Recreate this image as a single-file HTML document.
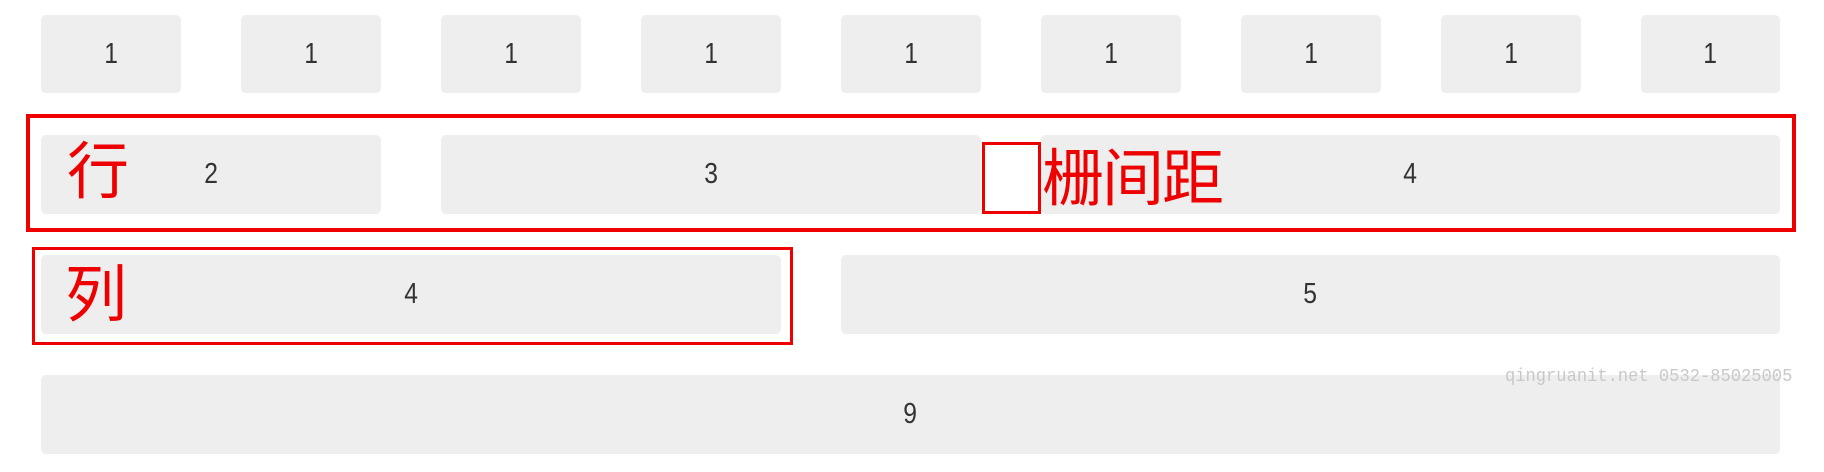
<!DOCTYPE html>
<html><head><meta charset="utf-8"><style>
body{margin:0;width:1824px;height:472px;background:#fff;position:relative;overflow:hidden;font-family:"Liberation Sans",sans-serif}
.b{position:absolute;background:#eeeeee;border-radius:5px;display:flex;align-items:center;justify-content:center;color:#333;font-size:29px}
.b span{display:inline-block;transform:scaleX(0.85)}
.r{position:absolute;border:4px solid #ee0000;box-sizing:border-box}
.t{position:absolute;color:#ee0000;font-family:"Liberation Sans","Noto Sans CJK SC",sans-serif;font-size:62px;line-height:1}
</style></head><body>
<div class="b" style="left:41px;top:15px;width:140px;height:78px"><span>1</span></div>
<div class="b" style="left:241px;top:15px;width:140px;height:78px"><span>1</span></div>
<div class="b" style="left:441px;top:15px;width:140px;height:78px"><span>1</span></div>
<div class="b" style="left:641px;top:15px;width:140px;height:78px"><span>1</span></div>
<div class="b" style="left:841px;top:15px;width:140px;height:78px"><span>1</span></div>
<div class="b" style="left:1041px;top:15px;width:140px;height:78px"><span>1</span></div>
<div class="b" style="left:1241px;top:15px;width:140px;height:78px"><span>1</span></div>
<div class="b" style="left:1441px;top:15px;width:140px;height:78px"><span>1</span></div>
<div class="b" style="left:1641px;top:15px;width:139px;height:78px"><span>1</span></div>

<div class="b" style="left:41px;top:135px;width:340px;height:79px"><span>2</span></div>
<div class="b" style="left:441px;top:135px;width:540px;height:79px"><span>3</span></div>
<div class="b" style="left:1041px;top:135px;width:739px;height:79px"><span>4</span></div>

<div class="b" style="left:41px;top:255px;width:740px;height:79px"><span>4</span></div>
<div class="b" style="left:841px;top:255px;width:939px;height:79px"><span>5</span></div>

<div class="b" style="left:41px;top:375px;width:1739px;height:79px"><span>9</span></div>

<div class="r" style="left:26px;top:114px;width:1770px;height:118px"></div>
<div class="r" style="left:32px;top:247px;width:761px;height:98px;border-width:3px"></div>
<div class="r" style="left:982px;top:142px;width:59px;height:72px;border-width:3px"></div>

<div class="t" style="left:67px;top:142px">行</div>
<div class="t" style="left:65px;top:265px">列</div>
<div class="t" style="left:1042px;top:149px;letter-spacing:-2px">栅间距</div>

<div style="position:absolute;left:1505px;top:367px;color:#c8c8c8;font-family:'Liberation Mono',monospace;font-size:18px;white-space:nowrap;transform:scaleX(0.95);transform-origin:left top">qingruanit.net 0532-85025005</div>
</body></html>
